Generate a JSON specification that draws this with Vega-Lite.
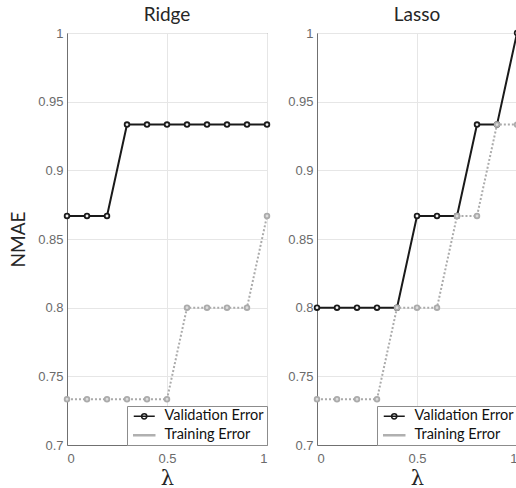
{
  "$schema": "https://vega.github.io/schema/vega-lite/v6.json",
  "autosize": {"type": "none"},
  "padding": {"left": 67, "top": 33, "right": 449, "bottom": 455},
  "background": "white",
  "config": {
    "view": {"stroke": "#707070", "strokeWidth": 1},
    "axis": {
      "labelFont": "Liberation Sans", "labelFontSize": 13, "labelColor": "#6b6b6b",
      "domainColor": "#707070", "tickSize": 0, "gridColor": "#e6e6e6",
      "titleFont": "Lato", "titleFontWeight": "normal", "titleColor": "#262626"
    },
    "title": {"font": "Lato", "fontSize": 19, "fontWeight": "normal", "color": "#262626", "offset": 2},
    "legend": {
      "labelFont": "Lato", "labelFontSize": 14.5, "labelColor": "#111111",
      "strokeColor": "#8c8c8c", "fillColor": "white", "padding": 3,
      "rowPadding": 4, "labelOffset": 20, "symbolSize": 49, "offset": 0, "cornerRadius": 0
    }
  },
  "data": {"values": [
    {"model": "Ridge", "series": "Validation Error", "lambda": 0.0, "nmae": 0.8667},
    {"model": "Ridge", "series": "Validation Error", "lambda": 0.1, "nmae": 0.8667},
    {"model": "Ridge", "series": "Validation Error", "lambda": 0.2, "nmae": 0.8667},
    {"model": "Ridge", "series": "Validation Error", "lambda": 0.3, "nmae": 0.9333},
    {"model": "Ridge", "series": "Validation Error", "lambda": 0.4, "nmae": 0.9333},
    {"model": "Ridge", "series": "Validation Error", "lambda": 0.5, "nmae": 0.9333},
    {"model": "Ridge", "series": "Validation Error", "lambda": 0.6, "nmae": 0.9333},
    {"model": "Ridge", "series": "Validation Error", "lambda": 0.7, "nmae": 0.9333},
    {"model": "Ridge", "series": "Validation Error", "lambda": 0.8, "nmae": 0.9333},
    {"model": "Ridge", "series": "Validation Error", "lambda": 0.9, "nmae": 0.9333},
    {"model": "Ridge", "series": "Validation Error", "lambda": 1.0, "nmae": 0.9333},
    {"model": "Ridge", "series": "Training Error", "lambda": 0.0, "nmae": 0.7333},
    {"model": "Ridge", "series": "Training Error", "lambda": 0.1, "nmae": 0.7333},
    {"model": "Ridge", "series": "Training Error", "lambda": 0.2, "nmae": 0.7333},
    {"model": "Ridge", "series": "Training Error", "lambda": 0.3, "nmae": 0.7333},
    {"model": "Ridge", "series": "Training Error", "lambda": 0.4, "nmae": 0.7333},
    {"model": "Ridge", "series": "Training Error", "lambda": 0.5, "nmae": 0.7333},
    {"model": "Ridge", "series": "Training Error", "lambda": 0.6, "nmae": 0.8},
    {"model": "Ridge", "series": "Training Error", "lambda": 0.7, "nmae": 0.8},
    {"model": "Ridge", "series": "Training Error", "lambda": 0.8, "nmae": 0.8},
    {"model": "Ridge", "series": "Training Error", "lambda": 0.9, "nmae": 0.8},
    {"model": "Ridge", "series": "Training Error", "lambda": 1.0, "nmae": 0.8667},
    {"model": "Lasso", "series": "Validation Error", "lambda": 0.0, "nmae": 0.8},
    {"model": "Lasso", "series": "Validation Error", "lambda": 0.1, "nmae": 0.8},
    {"model": "Lasso", "series": "Validation Error", "lambda": 0.2, "nmae": 0.8},
    {"model": "Lasso", "series": "Validation Error", "lambda": 0.3, "nmae": 0.8},
    {"model": "Lasso", "series": "Validation Error", "lambda": 0.4, "nmae": 0.8},
    {"model": "Lasso", "series": "Validation Error", "lambda": 0.5, "nmae": 0.8667},
    {"model": "Lasso", "series": "Validation Error", "lambda": 0.6, "nmae": 0.8667},
    {"model": "Lasso", "series": "Validation Error", "lambda": 0.7, "nmae": 0.8667},
    {"model": "Lasso", "series": "Validation Error", "lambda": 0.8, "nmae": 0.9333},
    {"model": "Lasso", "series": "Validation Error", "lambda": 0.9, "nmae": 0.9333},
    {"model": "Lasso", "series": "Validation Error", "lambda": 1.0, "nmae": 1.0},
    {"model": "Lasso", "series": "Training Error", "lambda": 0.0, "nmae": 0.7333},
    {"model": "Lasso", "series": "Training Error", "lambda": 0.1, "nmae": 0.7333},
    {"model": "Lasso", "series": "Training Error", "lambda": 0.2, "nmae": 0.7333},
    {"model": "Lasso", "series": "Training Error", "lambda": 0.3, "nmae": 0.7333},
    {"model": "Lasso", "series": "Training Error", "lambda": 0.4, "nmae": 0.8},
    {"model": "Lasso", "series": "Training Error", "lambda": 0.5, "nmae": 0.8},
    {"model": "Lasso", "series": "Training Error", "lambda": 0.6, "nmae": 0.8},
    {"model": "Lasso", "series": "Training Error", "lambda": 0.7, "nmae": 0.8667},
    {"model": "Lasso", "series": "Training Error", "lambda": 0.8, "nmae": 0.8667},
    {"model": "Lasso", "series": "Training Error", "lambda": 0.9, "nmae": 0.9333},
    {"model": "Lasso", "series": "Training Error", "lambda": 1.0, "nmae": 0.9333}
  ]},
  "spacing": 50,
  "bounds": "flush",
  "resolve": {"scale": {"stroke": "independent", "shape": "independent"}, "legend": {"stroke": "independent", "shape": "independent"}},
  "hconcat": [
    {
      "width": 200, "height": 412,
      "title": {"text": "Ridge"},
      "transform": [{"filter": "datum.model === 'Ridge'"}],
      "encoding": {
        "x": {"field": "lambda", "type": "quantitative", "scale": {"domain": [0, 1], "nice": false},
              "axis": {"values": [0, 0.5, 1], "format": "~g", "title": "λ", "titleFont": "DejaVu Serif", "titleFontSize": 21, "titlePadding": 2, "labelPadding": 7}},
        "y": {"field": "nmae", "type": "quantitative", "scale": {"domain": [0.7, 1], "nice": false, "zero": false},
              "axis": {"values": [0.7, 0.75, 0.8, 0.85, 0.9, 0.95, 1], "format": "~g", "title": "NMAE", "titleFontSize": 19, "titlePadding": 9, "labelPadding": 4}}
      },
      "layer": [
        {"transform": [{"filter": "datum.series === 'Validation Error'"}], "mark": {"type": "line", "color": "#1a1a1a", "strokeWidth": 2}},
        {"transform": [{"filter": "datum.series === 'Validation Error'"}], "mark": {"type": "point", "shape": "circle", "size": 22, "stroke": "#1a1a1a", "strokeWidth": 1.8, "fill": "#f0f0f0", "filled": false, "opacity": 1}},
        {"transform": [{"filter": "datum.series === 'Training Error'"}], "mark": {"type": "line", "color": "#ababab", "strokeWidth": 2, "strokeDash": [2, 2]}},
        {"transform": [{"filter": "datum.series === 'Training Error'"}], "mark": {"type": "point", "shape": "circle", "size": 22, "stroke": "#ababab", "strokeWidth": 1.8, "fill": "#dcdcdc", "filled": false, "opacity": 1}},
        {"transform": [{"filter": "false"}], "mark": {"type": "point", "strokeWidth": 2, "opacity": 1},
         "encoding": {
           "stroke": {"field": "series", "type": "nominal", "scale": {"domain": ["Validation Error", "Training Error"], "range": ["#1a1a1a", "#b0b0b0"]},
                      "legend": {"title": null, "orient": "bottom-right", "encode": {"symbols": {"update": {"fill": {"signal": "datum.value === 'Training Error' ? '#b0b0b0' : 'white'"}}}}}},
           "shape": {"field": "series", "type": "nominal", "scale": {"domain": ["Validation Error", "Training Error"], "range": ["M-1,0L5,0M2.75,0A0.75,0.75,0,1,1,1.25,0A0.75,0.75,0,1,1,2.75,0", "M-1,-0.15L5,-0.15L5,0.15L-1,0.15Z"]},
                     "legend": {"title": null, "orient": "bottom-right"}}
         }}
      ]
    },
    {
      "width": 200, "height": 412,
      "title": {"text": "Lasso"},
      "transform": [{"filter": "datum.model === 'Lasso'"}],
      "encoding": {
        "x": {"field": "lambda", "type": "quantitative", "scale": {"domain": [0, 1], "nice": false},
              "axis": {"values": [0, 0.5, 1], "format": "~g", "title": "λ", "titleFont": "DejaVu Serif", "titleFontSize": 21, "titlePadding": 2, "labelPadding": 7}},
        "y": {"field": "nmae", "type": "quantitative", "scale": {"domain": [0.7, 1], "nice": false, "zero": false},
              "axis": {"values": [0.7, 0.75, 0.8, 0.85, 0.9, 0.95, 1], "format": "~g", "title": null, "labelPadding": 4}}
      },
      "layer": [
        {"transform": [{"filter": "datum.series === 'Validation Error'"}], "mark": {"type": "line", "color": "#1a1a1a", "strokeWidth": 2}},
        {"transform": [{"filter": "datum.series === 'Validation Error'"}], "mark": {"type": "point", "shape": "circle", "size": 22, "stroke": "#1a1a1a", "strokeWidth": 1.8, "fill": "#f0f0f0", "filled": false, "opacity": 1}},
        {"transform": [{"filter": "datum.series === 'Training Error'"}], "mark": {"type": "line", "color": "#ababab", "strokeWidth": 2, "strokeDash": [2, 2]}},
        {"transform": [{"filter": "datum.series === 'Training Error'"}], "mark": {"type": "point", "shape": "circle", "size": 22, "stroke": "#ababab", "strokeWidth": 1.8, "fill": "#dcdcdc", "filled": false, "opacity": 1}},
        {"transform": [{"filter": "false"}], "mark": {"type": "point", "strokeWidth": 2, "opacity": 1},
         "encoding": {
           "stroke": {"field": "series", "type": "nominal", "scale": {"domain": ["Validation Error", "Training Error"], "range": ["#1a1a1a", "#b0b0b0"]},
                      "legend": {"title": null, "orient": "bottom-right", "encode": {"symbols": {"update": {"fill": {"signal": "datum.value === 'Training Error' ? '#b0b0b0' : 'white'"}}}}}},
           "shape": {"field": "series", "type": "nominal", "scale": {"domain": ["Validation Error", "Training Error"], "range": ["M-1,0L5,0M2.75,0A0.75,0.75,0,1,1,1.25,0A0.75,0.75,0,1,1,2.75,0", "M-1,-0.15L5,-0.15L5,0.15L-1,0.15Z"]},
                     "legend": {"title": null, "orient": "bottom-right"}}
         }}
      ]
    }
  ]
}
